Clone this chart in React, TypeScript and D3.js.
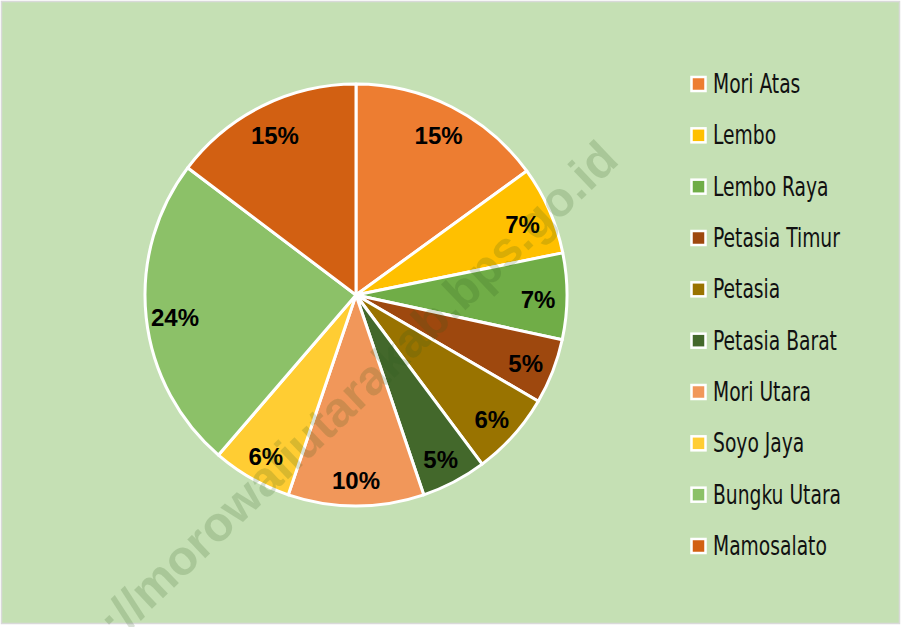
import React from "react";
import * as d3 from "d3";

const categories = [
  "Mori Atas",
  "Lembo",
  "Lembo Raya",
  "Petasia Timur",
  "Petasia",
  "Petasia Barat",
  "Mori Utara",
  "Soyo Jaya",
  "Bungku Utara",
  "Mamosalato",
];
const values = [15.0, 6.8, 6.6, 5.0, 6.4, 5.0, 10.4, 6.1, 24.0, 14.7];
const colors = [
  "#ED7D31",
  "#FFC000",
  "#70AD47",
  "#9E480E",
  "#997300",
  "#43682B",
  "#F1975A",
  "#FFCD33",
  "#8CC168",
  "#D26012",
];
const watermark = "http://morowaliutarakab.bps.go.id";

export default function App() {
  const W = 903;
  const H = 627;
  const cx = 356;
  const cy = 295;
  const r = 211;
  const total = d3.sum(values);
  const pie = d3
    .pie<number>()
    .sort(null)
    .value((d) => d)(values);
  const arc = d3.arc<d3.PieArcDatum<number>>().innerRadius(0).outerRadius(r);
  const labelArc = d3
    .arc<d3.PieArcDatum<number>>()
    .innerRadius(182)
    .outerRadius(182);

  const legendY = d3
    .scalePoint<string>()
    .domain(categories)
    .range([84, 546]);

  return (
    <svg
      width={W}
      height={H}
      style={{ position: "absolute", left: 0, top: 0, display: "block" }}
    >
      <rect x={0} y={0} width={W} height={H} fill="#ffffff" />
      <rect
        x={1.5}
        y={1.5}
        width={898}
        height={622}
        fill="#C5E0B4"
        stroke="#D9D9D9"
        strokeWidth={1.5}
      />
      <g transform={`translate(${cx},${cy})`}>
        {pie.map((d, i) => (
          <path
            key={i}
            d={arc(d) || ""}
            fill={colors[i]}
            stroke="#ffffff"
            strokeWidth={3}
            strokeLinejoin="round"
          />
        ))}
        {pie.map((d, i) => {
          const [x, y] = labelArc.centroid(d);
          return (
            <text
              key={"l" + i}
              x={x}
              y={y + 3}
              textAnchor="middle"
              dominantBaseline="central"
              fontFamily="'Liberation Sans', Arial, sans-serif"
              fontWeight="bold"
              fontSize={24}
              fill="#000000"
            >
              {Math.round((values[i] / total) * 100) + "%"}
            </text>
          );
        })}
      </g>
      <text
        transform={`translate(609,150) rotate(-43.6)`}
        textAnchor="end"
        dominantBaseline="central"
        fontFamily="'Liberation Sans', Arial, sans-serif"
        fontWeight="bold"
        fontSize={49}
        fill="#2F5A1E"
        fillOpacity={0.18}
      >
        {watermark}
      </text>
      <g>
        {categories.map((c, i) => {
          const y = legendY(c) as number;
          return (
            <g key={c}>
              <rect
                x={691.5}
                y={y - 7}
                width={14}
                height={14}
                fill={colors[i]}
                stroke="#ffffff"
                strokeWidth={2.5}
              />
              <text
                transform={`translate(713,${y}) scale(0.8,1)`}
                dominantBaseline="central"
                fontFamily="'DejaVu Sans Condensed', 'Liberation Sans Narrow', sans-serif"
                fontSize={26}
                fill="#111111"
              >
                {c}
              </text>
            </g>
          );
        })}
      </g>
    </svg>
  );
}
